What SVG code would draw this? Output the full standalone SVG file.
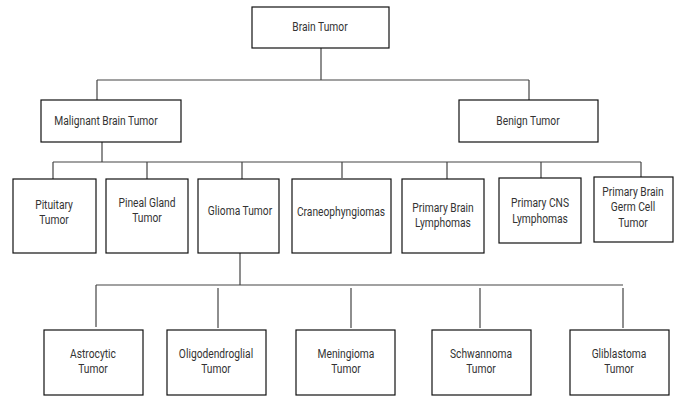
<svg xmlns="http://www.w3.org/2000/svg" width="683" height="397" viewBox="0 0 683 397">
<style>
.box{fill:#fff;stroke:#111;stroke-width:1.2}
.t{font-family:Roboto,"Liberation Sans",sans-serif;font-size:12.5px;fill:#333;text-anchor:middle;transform-box:fill-box;transform-origin:center;transform:scaleX(0.82)}
.c{fill:none;stroke:#444;stroke-width:1.2}
</style>
<rect width="683" height="397" fill="#fff"/>
<g id="connectors">
<path class="c" d="M321 48V80M97 80H529M97 80V100M529 80V100"/>
<path class="c" d="M102 142V162M53 162H641M53 162V179M147 162V179M242 162V179M342 162V178M447 162V179M541 162V178M641 162V177"/>
<path class="c" d="M240 253V285M96 285H623M96 285V327M218 288V328M351 288V328M480 288V328M623 288V328"/>
</g>
<g id="brain"><rect class="box" x="252" y="7" width="137" height="41"/><text class="t" x="320" y="31">Brain Tumor</text></g>
<g id="malignant"><rect class="box" x="41" y="100" width="140" height="42"/><text class="t" x="106" y="125">Malignant Brain Tumor</text></g>
<g id="benign"><rect class="box" x="459" y="100" width="139" height="42"/><text class="t" x="528" y="125">Benign Tumor</text></g>
<g id="pituitary"><rect class="box" x="13" y="179" width="83" height="74"/><text class="t" x="54" y="209">Pituitary</text><text class="t" x="54" y="224">Tumor</text></g>
<g id="pineal"><rect class="box" x="106" y="179" width="82" height="74"/><text class="t" x="147" y="207">Pineal Gland</text><text class="t" x="147" y="222">Tumor</text></g>
<g id="glioma"><rect class="box" x="198" y="179" width="81" height="74"/><text class="t" x="240" y="215">Glioma Tumor</text></g>
<g id="craneo"><rect class="box" x="292" y="179" width="99" height="74"/><text class="t" x="341" y="216">Craneophyngiomas</text></g>
<g id="pbl"><rect class="box" x="402" y="179" width="82" height="74"/><text class="t" x="443" y="212">Primary Brain</text><text class="t" x="443" y="227">Lymphomas</text></g>
<g id="pcns"><rect class="box" x="499" y="178" width="82" height="65"/><text class="t" x="540" y="207">Primary CNS</text><text class="t" x="540" y="223">Lymphomas</text></g>
<g id="germ"><rect class="box" x="594" y="177" width="79" height="65"/><text class="t" x="633" y="196">Primary Brain</text><text class="t" x="633" y="211">Germ Cell</text><text class="t" x="633" y="227">Tumor</text></g>
<g id="astro"><rect class="box" x="44" y="330" width="99" height="65"/><text class="t" x="93" y="358">Astrocytic</text><text class="t" x="93" y="373">Tumor</text></g>
<g id="oligo"><rect class="box" x="167" y="330" width="99" height="65"/><text class="t" x="216" y="358">Oligodendroglial</text><text class="t" x="216" y="373">Tumor</text></g>
<g id="menin"><rect class="box" x="296" y="330" width="99" height="65"/><text class="t" x="346" y="358">Meningioma</text><text class="t" x="346" y="373">Tumor</text></g>
<g id="schwan"><rect class="box" x="432" y="330" width="99" height="65"/><text class="t" x="481" y="358">Schwannoma</text><text class="t" x="481" y="373">Tumor</text></g>
<g id="gli"><rect class="box" x="570" y="330" width="99" height="65"/><text class="t" x="619" y="358">Gliblastoma</text><text class="t" x="619" y="373">Tumor</text></g>
</svg>
